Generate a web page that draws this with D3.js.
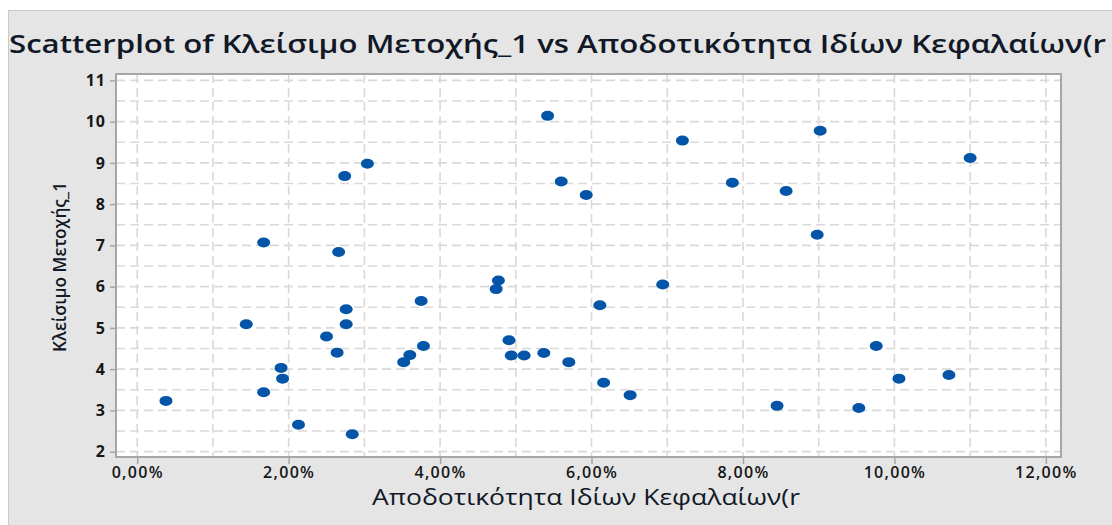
<!DOCTYPE html>
<html>
<head>
<meta charset="utf-8">
<script src="https://cdn.jsdelivr.net/npm/d3@7"></script>
<style>
    body { margin: 0; background: #fff; }
    svg { display: block; }
</style>
</head>
<body>
<div id="chart"></div>
<script>
const roe = [1.67, 2.66, 2.74, 3.04, 3.75, 2.76, 1.44, 2.76, 2.50, 2.64, 3.60, 3.52, 3.78, 1.90, 1.92,
    1.67, 0.38, 2.13, 2.84, 5.42, 7.20, 5.60, 5.93, 7.86, 4.77, 4.74, 6.11, 6.94, 4.91, 4.94, 5.11,
    5.37, 5.70, 6.16, 6.51, 8.45, 9.02, 11.00, 8.57, 8.98, 9.76, 10.06, 10.72, 9.53];
const price = [7.07, 6.84, 8.68, 8.98, 5.65, 5.45, 5.09, 5.09, 4.79, 4.40, 4.34, 4.17, 4.56, 4.03, 3.77,
    3.44, 3.23, 2.65, 2.42, 10.14, 9.54, 8.55, 8.22, 8.52, 6.15, 5.94, 5.55, 6.05, 4.70, 4.33, 4.33,
    4.39, 4.17, 3.67, 3.37, 3.11, 9.78, 9.12, 8.32, 7.26, 4.56, 3.77, 3.86, 3.06];
const xTicks = [0, 2, 4, 6, 8, 10, 12];
const yTicks = [2, 3, 4, 5, 6, 7, 8, 9, 10, 11];
const xGrid = d3.range(0, 13, 1);
const yGrid = d3.range(2, 11.01, 0.5);

const title = 'Scatterplot of Κλείσιμο Μετοχής_1 vs Αποδοτικότητα Ιδίων Κεφαλαίων(r';
const xLabel = 'Αποδοτικότητα Ιδίων Κεφαλαίων(r';
const yLabel = 'Κλείσιμο Μετοχής_1';

const width = 1112, height = 525;
const plot = { left: 116, right: 1061, top: 74, bottom: 457 };
const font = '"Open Sans", "Noto Sans", sans-serif';

const svg = d3.select('#chart').append('svg')
    .attr('width', width)
    .attr('height', height);

// gray frame
svg.append('rect')
    .attr('x', 8.5).attr('y', 10.5)
    .attr('width', 1110).attr('height', 520)
    .attr('fill', '#e5e5e5')
    .attr('stroke', '#c9c9c9');

svg.append('text')
    .attr('x', 9).attr('y', 53)
    .attr('font-family', font)
    .attr('font-size', 25)
    .attr('font-weight', 600)
    .attr('fill', '#111827')
    .attr('textLength', 1097)
    .attr('lengthAdjust', 'spacingAndGlyphs')
    .text(title);

const xScale = d3.scaleLinear().domain([-0.28, 12.2]).range([plot.left, plot.right]);
const yScale = d3.scaleLinear().domain([1.87, 11.155]).range([plot.bottom, plot.top]);

svg.append('rect')
    .attr('x', plot.left).attr('y', plot.top)
    .attr('width', plot.right - plot.left).attr('height', plot.bottom - plot.top)
    .attr('fill', '#fff');

const grid = svg.append('g')
    .attr('stroke', '#d9d9d9')
    .attr('stroke-width', 1.6)
    .attr('stroke-dasharray', '9,5');

grid.selectAll('line.v').data(xGrid)
    .enter().append('line')
    .attr('class', 'v')
    .attr('x1', d => xScale(d)).attr('x2', d => xScale(d))
    .attr('y1', plot.top).attr('y2', plot.bottom);

grid.selectAll('line.h').data(yGrid)
    .enter().append('line')
    .attr('class', 'h')
    .attr('x1', plot.left).attr('x2', plot.right)
    .attr('y1', d => yScale(d)).attr('y2', d => yScale(d));

svg.append('rect')
    .attr('x', plot.left).attr('y', plot.top)
    .attr('width', plot.right - plot.left).attr('height', plot.bottom - plot.top)
    .attr('fill', 'none')
    .attr('stroke', '#a6a6a6')
    .attr('stroke-width', 2);

const fmt = d => d3.format('.2f')(d).replace('.', ',') + '%';

const xAxis = d3.axisBottom(xScale)
    .tickValues(xTicks)
    .tickSize(7)
    .tickPadding(3)
    .tickFormat(fmt);

const yAxis = d3.axisLeft(yScale)
    .tickValues(yTicks)
    .tickSize(6)
    .tickPadding(4)
    .tickFormat(d3.format('d'));

const xAxisG = svg.append('g')
    .attr('transform', `translate(0, ${plot.bottom})`)
    .call(xAxis);
const yAxisG = svg.append('g')
    .attr('transform', `translate(${plot.left}, 0)`)
    .call(yAxis);

[xAxisG, yAxisG].forEach(g => {
    g.select('.domain').remove();
    g.selectAll('.tick line').attr('stroke', '#a6a6a6').attr('stroke-width', 1.5);
    g.selectAll('.tick text')
        .attr('font-family', font)
        .attr('font-size', 16)
        .attr('font-weight', 600)
        .attr('fill', '#161616');
});
xAxisG.selectAll('.tick text').attr('letter-spacing', 1.3);
yAxisG.selectAll('.tick text').attr('font-weight', 700).attr('letter-spacing', 1);

svg.append('text')
    .attr('x', 586).attr('y', 505)
    .attr('text-anchor', 'middle')
    .attr('font-family', font)
    .attr('font-size', 21)
    .attr('fill', '#111827')
    .attr('textLength', 428)
    .attr('lengthAdjust', 'spacingAndGlyphs')
    .text(xLabel);

svg.append('text')
    .attr('transform', 'translate(66, 267) rotate(-90)')
    .attr('text-anchor', 'middle')
    .attr('font-family', font)
    .attr('font-size', 18)
    .attr('font-weight', 600)
    .attr('fill', '#111827')
    .attr('textLength', 170)
    .attr('lengthAdjust', 'spacingAndGlyphs')
    .text(yLabel);

const points = roe.map((r, i) => ({ r: r, p: price[i] }));

svg.append('g').selectAll('ellipse').data(points)
    .enter().append('ellipse')
    .attr('cx', d => xScale(d.r))
    .attr('cy', d => yScale(d.p))
    .attr('rx', 6.5)
    .attr('ry', 5)
    .attr('fill', '#0455a8');
</script>
</body>
</html>
